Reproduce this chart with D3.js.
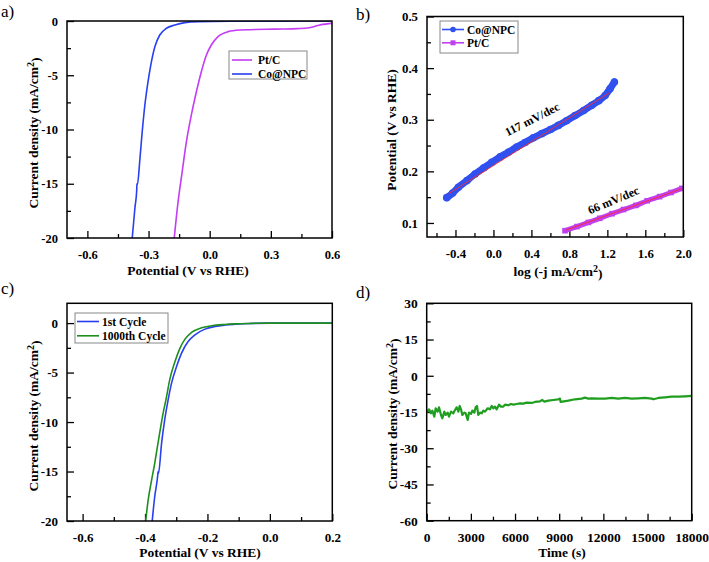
<!DOCTYPE html>
<html><head><meta charset="utf-8">
<script src="https://cdn.jsdelivr.net/npm/d3@7"></script>
<style>
body{margin:0;background:#fff;}
svg{display:block;font-family:"Liberation Serif","Times New Roman",serif;}
</style></head><body>
<svg id="chart" width="709" height="562"></svg>
<script>
// ---------- Panel a : LSV ----------
const aPtC = [[-0.174,-20],[-0.155,-16.65],[-0.135,-13.9],[-0.114,-11.1],[-0.090,-8.66],[-0.065,-6.5],[-0.041,-4.67],[-0.016,-3.13],[0.008,-2.21],[0.041,-1.44],[0.090,-0.98],[0.147,-0.83],[0.196,-0.8],[0.28,-0.76],[0.359,-0.74],[0.43,-0.7],[0.489,-0.62],[0.53,-0.42],[0.555,-0.31],[0.595,-0.22],[0.6,-0.21]];
const aCoNPC = [[-0.380,-20],[-0.367,-17.26],[-0.358,-15.6],[-0.357,-15.0],[-0.355,-15.1],[-0.342,-12.65],[-0.331,-10.2],[-0.318,-7.74],[-0.305,-5.9],[-0.289,-4.06],[-0.269,-2.37],[-0.245,-1.29],[-0.212,-0.67],[-0.171,-0.37],[-0.122,-0.15],[-0.057,-0.06],[0.1,-0.02],[0.3,-0.01],[0.6,0]];
const aXTicks = [-0.6,-0.3,0.0,0.3,0.6];
const aXLabels = ["-0.6","-0.3","0.0","0.3","0.6"];
const aXMinor = [-0.45,-0.15,0.15,0.45];
const aYTicks = [0,-5,-10,-15,-20];
const aYLabels = ["0","-5","-10","-15","-20"];
const aYMinor = [-2.5,-7.5,-12.5,-17.5];
const aLegend = ["Pt/C","Co@NPC"];

// ---------- Panel b : Tafel ----------
const bCoNPC = [[-0.492,0.149],[-0.430,0.158],[-0.370,0.169],[-0.280,0.182],[-0.194,0.195],[-0.100,0.207],[-0.018,0.2175],[0.070,0.228],[0.157,0.237],[0.245,0.247],[0.333,0.256],[0.420,0.265],[0.509,0.273],[0.600,0.281],[0.684,0.289],[0.770,0.298],[0.860,0.308],[0.950,0.318],[1.036,0.328],[1.110,0.337],[1.176,0.347],[1.228,0.360],[1.274,0.373]];
const bCoFit = [[-0.47,0.157],[1.22,0.352]];
const bPtC = [[0.754,0.085],[0.88,0.093],[1.0,0.101],[1.12,0.109],[1.25,0.118],[1.37,0.126],[1.5,0.134],[1.62,0.143],[1.75,0.151],[1.87,0.159],[1.985,0.167]];
const bPtFit = [[0.76,0.086],[1.98,0.166]];
const bXTicks = [-0.4,0.0,0.4,0.8,1.2,1.6,2.0];
const bXLabels = ["-0.4","0.0","0.4","0.8","1.2","1.6","2.0"];
const bXMinor = [-0.6,-0.2,0.2,0.6,1.0,1.4,1.8];
const bYTicks = [0.1,0.2,0.3,0.4,0.5];
const bYLabels = ["0.1","0.2","0.3","0.4","0.5"];
const bYMinor = [0.15,0.25,0.35,0.45];
const bLegend = ["Co@NPC","Pt/C"];
const bSlopes = ["117 mV/dec","66 mV/dec"];

// ---------- Panel c : cycling ----------
const cFirst = [[-0.377,-20],[-0.369,-17.55],[-0.360,-15.6],[-0.358,-15.0],[-0.357,-15.2],[-0.347,-12.15],[-0.337,-9.79],[-0.326,-7.76],[-0.315,-6.07],[-0.299,-4.39],[-0.283,-3.04],[-0.262,-1.86],[-0.240,-1.18],[-0.208,-0.61],[-0.176,-0.34],[-0.144,-0.2],[-0.112,-0.12],[-0.06,-0.04],[0.0,0],[0.2,0]];
const cThousandth = [[-0.398,-20],[-0.39,-17.9],[-0.379,-15.86],[-0.368,-14.0],[-0.366,-13.6],[-0.353,-11.1],[-0.342,-9.1],[-0.331,-7.43],[-0.321,-5.74],[-0.304,-3.89],[-0.288,-2.53],[-0.272,-1.62],[-0.251,-0.95],[-0.219,-0.48],[-0.187,-0.27],[-0.144,-0.14],[-0.112,-0.08],[-0.06,-0.03],[0,0],[0.2,0]];
const cXTicks = [-0.6,-0.4,-0.2,0.0,0.2];
const cXLabels = ["-0.6","-0.4","-0.2","0.0","0.2"];
const cXMinor = [-0.5,-0.3,-0.1,0.1];
const cYTicks = [0,-5,-10,-15,-20];
const cYLabels = ["0","-5","-10","-15","-20"];
const cYMinor = [-2.5,-7.5,-12.5,-17.5];
const cLegend = ["1st Cycle","1000th Cycle"];

// ---------- Panel d : chronoamperometry ----------
const dTime = [0,156,292,383,518,609,745,835,971,1062,1198,1288,1424,1515,1650,1809,1922,2035,2149,2239,2330,2420,2556,2647,2782,2873,3009,3099,3235,3326,3416,3507,3620,3733,3847,3960,4141,4299,4413,4526,4639,4752,4911,5046,5205,5318,5545,5726,5884,6111,6337,6563,6790,7129,7356,7695,7854,7990,8262,8601,8941,9054,9099,9212,9620,10073,10525,10752,10978,11205,11657,12110,12563,13016,13468,13921,14374,14827,15280,15393,15733,16185,16638,17091,17544,18000];
const dCurrent = [-15.26,-13.88,-15.54,-14.43,-16.92,-13.47,-14.85,-13.05,-16.23,-17.6,-14.85,-16.23,-15.26,-16.92,-14.85,-15.54,-14.16,-13.05,-14.85,-12.5,-13.88,-16.23,-15.26,-15.54,-18.3,-15.26,-15.81,-14.43,-15.26,-13.05,-12.5,-16.23,-15.26,-15.54,-14.43,-14.85,-13.47,-13.88,-12.5,-13.47,-12.78,-13.88,-11.95,-12.78,-12.78,-11.95,-12.22,-11.67,-11.95,-11.67,-11.4,-11.53,-11.12,-11.26,-10.84,-10.57,-10.02,-10.71,-10.29,-10.02,-9.74,-9.46,-10.84,-10.71,-10.29,-9.74,-9.46,-9.05,-9.46,-9.33,-9.46,-9.46,-9.19,-9.46,-9.19,-9.46,-9.33,-9.19,-9.46,-9.74,-9.19,-8.91,-8.64,-8.64,-8.5,-8.36];
const dXTicks = [0,3000,6000,9000,12000,15000,18000];
const dXLabels = ["0","3000","6000","9000","12000","15000","18000"];
const dXMinor = [1500,4500,7500,10500,13500,16500];
const dYTicks = [30,15,0,-15,-30,-45,-60];
const dYLabels = ["30","15","0","-15","-30","-45","-60"];
const dYMinor = [22.5,7.5,-7.5,-22.5,-37.5,-52.5];

const svg = d3.select("#chart");
svg.append("rect").attr("width",709).attr("height",562).attr("fill","#fff");

function panel(o){
  const g = svg.append("g");
  const x = d3.scaleLinear().domain(o.xd).range([o.l,o.r]);
  const y = d3.scaleLinear().domain(o.yd).range([o.b,o.t]);
  const id = "clip"+o.name;
  svg.append("clipPath").attr("id",id).append("rect")
    .attr("x",o.l).attr("y",o.t).attr("width",o.r-o.l).attr("height",o.b-o.t);
  const style = sel => {
    sel.select(".domain").remove();
    sel.attr("font-family",null).attr("font-size",null);
    sel.selectAll("line").attr("stroke","#000").attr("stroke-width",1.3);
    sel.selectAll("text").attr("fill","#000").attr("font-size",o.tickFs||12.5).attr("font-weight","bold")
      .attr("font-family","'Liberation Serif',serif");
  };
  g.append("g").attr("transform",`translate(0,${o.b})`)
    .call(d3.axisBottom(x).tickValues(o.xMinor).tickSize(-4).tickFormat("")).call(style);
  g.append("g").attr("transform",`translate(0,${o.b})`)
    .call(d3.axisBottom(x).tickValues(o.xTicks).tickSize(-7).tickPadding(o.xPad||12).tickFormat((d,i)=>o.xLabels[i])).call(style);
  g.append("g").attr("transform",`translate(${o.l},0)`)
    .call(d3.axisLeft(y).tickValues(o.yMinor).tickSize(-4).tickFormat("")).call(style);
  g.append("g").attr("transform",`translate(${o.l},0)`)
    .call(d3.axisLeft(y).tickValues(o.yTicks).tickSize(-7).tickPadding(o.yPad||9).tickFormat((d,i)=>o.yLabels[i])).call(style);
  const plot = g.append("g").attr("clip-path",`url(#${id})`);
  g.append("rect").attr("x",o.l).attr("y",o.t).attr("width",o.r-o.l).attr("height",o.b-o.t)
    .attr("fill","none").attr("stroke","#000").attr("stroke-width",1.5);
  const xt = g.append("text").attr("x",o.xtX).attr("y",o.xtY).attr("text-anchor","middle")
    .attr("font-size",13.5).attr("font-weight","bold");
  o.xTitle.forEach(p=>{ xt.append("tspan").text(p[0]).attr("dy",p[1]).attr("font-size",p[2]||null); });
  const yt = g.append("text").attr("transform",`translate(${o.ytX},${o.ytY}) rotate(-90)`).attr("text-anchor","middle")
    .attr("font-size",13.5).attr("font-weight","bold");
  o.yTitle.forEach(p=>{ yt.append("tspan").text(p[0]).attr("dy",p[1]).attr("font-size",p[2]||null); });
  g.append("text").attr("x",o.lblX).attr("y",o.lblY).attr("font-size",17).text(o.name+")");
  return {g,plot,x,y};
}
const densTitle = [["Current density (mA/cm",0],["2","-0.45em",10],[")","0.45em"]];
const potTitle = [["Potential (V vs RHE)",0]];

// Panel a
const A = panel({name:"a",l:67,r:332,t:21,b:238,xd:[-0.7,0.6],yd:[-20,0],tickFs:12.5,
  xTicks:aXTicks,xLabels:aXLabels,xMinor:aXMinor,yTicks:aYTicks,yLabels:aYLabels,yMinor:aYMinor,
  xTitle:potTitle,xtX:188,xtY:275,yTitle:densTitle,ytX:38,ytY:133,lblX:1,lblY:17});
const lineA = d3.line().x(d=>A.x(d[0])).y(d=>A.y(d[1])).curve(d3.curveMonotoneX);
A.plot.append("path").datum(aPtC).attr("d",lineA).attr("fill","none").attr("stroke","#c43cf5").attr("stroke-width",1.6);
A.plot.append("path").datum(aCoNPC).attr("d",lineA).attr("fill","none").attr("stroke","#2a3ff0").attr("stroke-width",1.6);
const aLegColors = ["#c43cf5","#2a3ff0"];
A.g.append("rect").attr("x",229).attr("y",51).attr("width",78).attr("height",28).attr("fill","#fff").attr("stroke","#888").attr("stroke-width",1);
aLegend.forEach((t,i)=>{
  const yy = 60 + i*14;
  A.g.append("line").attr("x1",232).attr("x2",252).attr("y1",yy).attr("y2",yy).attr("stroke",aLegColors[i]).attr("stroke-width",1.6);
  A.g.append("text").attr("x",258).attr("y",yy+4).attr("font-size",11.5).attr("font-weight","bold").text(t);
});

// Panel b
const B = panel({name:"b",l:427,r:683.3,t:16.5,b:237,xd:[-0.7,2.0],yd:[0.0728,0.5],tickFs:12.8,
  xTicks:bXTicks,xLabels:bXLabels,xMinor:bXMinor,yTicks:bYTicks,yLabels:bYLabels,yMinor:bYMinor,
  xTitle:[["log (-j mA/cm",0],["2","-0.45em",10],[")","0.45em"]],xtX:558,xtY:276,
  yTitle:potTitle,ytX:396,ytY:130,lblX:356,lblY:20});
const lineB = d3.line().x(d=>B.x(d[0])).y(d=>B.y(d[1])).curve(d3.curveMonotoneX);
const bBlue="#3050f0", bMag="#c040f0", red="#ff2a2a";
B.plot.append("path").datum(bCoNPC).attr("d",lineB).attr("fill","none").attr("stroke",bBlue).attr("stroke-width",7).attr("stroke-linecap","round");
B.plot.selectAll("circle.co").data(bCoNPC).join("circle").attr("cx",d=>B.x(d[0])).attr("cy",d=>B.y(d[1])).attr("r",3.8).attr("fill",bBlue);
B.plot.append("path").datum(bCoFit).attr("d",lineB).attr("fill","none").attr("stroke",red).attr("stroke-width",0.9);
B.plot.append("path").datum(bPtC).attr("d",lineB).attr("fill","none").attr("stroke",bMag).attr("stroke-width",5);
B.plot.selectAll("rect.pt").data(bPtC).join("rect").attr("x",d=>B.x(d[0])-2.8).attr("y",d=>B.y(d[1])-2.8).attr("width",5.6).attr("height",5.6).attr("fill",bMag);
B.plot.append("path").datum(bPtFit).attr("d",lineB).attr("fill","none").attr("stroke",red).attr("stroke-width",0.9);
B.g.append("text").attr("transform","translate(534,123) rotate(-27)").attr("text-anchor","middle").attr("font-size",12).attr("font-weight","bold").text(bSlopes[0]);
B.g.append("text").attr("transform","translate(615,204) rotate(-23)").attr("text-anchor","middle").attr("font-size",12).attr("font-weight","bold").text(bSlopes[1]);
B.g.append("rect").attr("x",440).attr("y",21).attr("width",78).attr("height",32).attr("fill","#fff").attr("stroke","#888").attr("stroke-width",1);
const bLegColors=[bBlue,bMag];
bLegend.forEach((t,i)=>{
  const yy = 29.5 + i*13.3;
  B.g.append("line").attr("x1",442).attr("x2",464).attr("y1",yy).attr("y2",yy).attr("stroke",bLegColors[i]).attr("stroke-width",1.6);
  if(i===0) B.g.append("circle").attr("cx",453).attr("cy",yy).attr("r",2.8).attr("fill",bLegColors[i]);
  else B.g.append("rect").attr("x",450.5).attr("y",yy-2.5).attr("width",5).attr("height",5).attr("fill",bLegColors[i]);
  B.g.append("text").attr("x",467).attr("y",yy+4).attr("font-size",11.5).attr("font-weight","bold").text(t);
});

// Panel c
const C = panel({name:"c",l:67,r:332.3,t:303.3,b:521,xd:[-0.65,0.2],yd:[-20,2],tickFs:13,
  xTicks:cXTicks,xLabels:cXLabels,xMinor:cXMinor,yTicks:cYTicks,yLabels:cYLabels,yMinor:cYMinor,
  xTitle:potTitle,xtX:200,xtY:557,yTitle:densTitle,ytX:38,ytY:416,lblX:1,lblY:294});
const lineC = d3.line().x(d=>C.x(d[0])).y(d=>C.y(d[1])).curve(d3.curveMonotoneX);
C.plot.append("path").datum(cFirst).attr("d",lineC).attr("fill","none").attr("stroke","#2a3ff0").attr("stroke-width",1.6);
C.plot.append("path").datum(cThousandth).attr("d",lineC).attr("fill","none").attr("stroke","#1e8e1e").attr("stroke-width",1.6);
C.g.append("rect").attr("x",75).attr("y",313).attr("width",93).attr("height",30).attr("fill","#fff").attr("stroke","#888").attr("stroke-width",1);
const cLegColors=["#2a3ff0","#1e8e1e"];
cLegend.forEach((t,i)=>{
  const yy = 321.5 + i*14.3;
  C.g.append("line").attr("x1",77).attr("x2",99).attr("y1",yy).attr("y2",yy).attr("stroke",cLegColors[i]).attr("stroke-width",1.6);
  C.g.append("text").attr("x",102).attr("y",yy+4).attr("font-size",11.5).attr("font-weight","bold").text(t);
});

// Panel d
const D = panel({name:"d",l:426.7,r:691.7,t:303.3,b:520.7,xd:[0,18000],yd:[-60,30],tickFs:13.5,
  xTicks:dXTicks,xLabels:dXLabels,xMinor:dXMinor,yTicks:dYTicks,yLabels:dYLabels,yMinor:dYMinor,
  xTitle:[["Time (s)",0]],xtX:562,xtY:557,yTitle:densTitle,ytX:397,ytY:414,lblX:356,lblY:298});
const dSeries = dTime.map((t,i)=>[t,dCurrent[i]]);
const lineD = d3.line().x(d=>D.x(d[0])).y(d=>D.y(d[1]));
D.plot.append("path").datum(dSeries).attr("d",lineD).attr("fill","none").attr("stroke","#1f9e1f").attr("stroke-width",2.2).attr("stroke-linejoin","round");
</script>
</body></html>
